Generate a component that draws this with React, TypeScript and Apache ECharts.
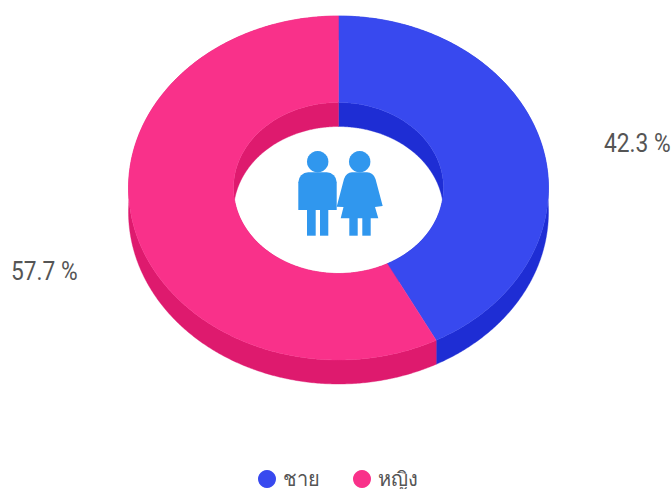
import React, { useEffect, useRef } from "react";
import * as echarts from "echarts";

const categories = ["ชาย", "หญิง"];
const values = [42.3, 57.7];
const topColors = ["#3849EF", "#F9318A"];
const sideColors = ["#1E2DD4", "#DE1A6E"];
const FONT = "Roboto, 'Noto Sans', sans-serif";

const CX = 338.5;
const CY = 188;
const OUTER_RX = 210;
const OUTER_RY = 172;
const INNER_RX = 105;
const INNER_RY = 85.5;
const DEPTH = 24;
const LABEL_POS = [
  { x: 604, y: 144 },
  { x: 11, y: 272 },
];

const total = values.reduce((a, b) => a + b, 0);
const startOf = (i: number) =>
  (values.slice(0, i).reduce((a, b) => a + b, 0) / total) * 360;

function arc(rx: number, ry: number, a0: number, a1: number, dy = 0) {
  const n = Math.max(2, Math.ceil((a1 - a0) * 2));
  const pts: number[][] = [];
  for (let k = 0; k <= n; k++) {
    const t = ((a0 + ((a1 - a0) * k) / n) * Math.PI) / 180;
    pts.push([CX + rx * Math.sin(t), CY - ry * Math.cos(t) + dy]);
  }
  return pts;
}

const band = (rx: number, ry: number, a0: number, a1: number) =>
  arc(rx, ry, a0, a1).concat(arc(rx, ry, a0, a1, DEPTH).reverse());

registerIcon();
function registerIcon() {
  echarts.graphic.registerShape(
    "womanBody",
    echarts.graphic.extendPath(
      "M352 172.3 L367 172.3 Q373 172.3 375.5 179 L382.7 206 L375 207 L378.3 218.3 L340.7 218.3 L343.5 207 L336.7 206.7 L344 179 Q346.5 172.3 352 172.3 Z",
      {}
    )
  );
}

function sliceSeries(i: number) {
  const a0 = startOf(i);
  const a1 = a0 + (values[i] / total) * 360;
  return {
    type: "custom",
    name: categories[i],
    coordinateSystem: "none",
    itemStyle: { color: topColors[i] },
    data: [{ name: categories[i], value: values[i] }],
    silent: true,
    renderItem: () => {
      const side = { fill: sideColors[i], stroke: sideColors[i], lineWidth: 0.4 };
      return {
        type: "group",
        children: [
          { type: "polygon", z2: 1, shape: { points: band(OUTER_RX, OUTER_RY, a0, a1) }, style: side },
          { type: "polygon", z2: 1, shape: { points: band(INNER_RX, INNER_RY, a0, a1) }, style: side },
          {
            type: "polygon",
            z2: 2,
            shape: {
              points: arc(OUTER_RX, OUTER_RY, a0, a1).concat(arc(INNER_RX, INNER_RY, a0, a1).reverse()),
            },
            style: { fill: topColors[i], stroke: topColors[i], lineWidth: 0.4 },
          },
          {
            type: "text",
            z2: 3,
            x: LABEL_POS[i].x,
            y: LABEL_POS[i].y,
            scaleX: 0.91,
            style: {
              text: `${values[i]} %`,
              fontSize: 25,
              fontFamily: FONT,
              fill: "#555555",
              textAlign: "left",
              textVerticalAlign: "middle",
            },
          },
        ],
      };
    },
  };
}

const ICON_COLOR = "#3097EE";

export default function App() {
  const ref = useRef<HTMLDivElement>(null);
  useEffect(() => {
    const chart = echarts.init(ref.current!, null, { renderer: "svg" });
    chart.setOption({
      animation: false,
      backgroundColor: "#ffffff",
      legend: {
        data: categories,
        icon: "circle",
        left: 253,
        top: 464,
        itemWidth: 18,
        itemHeight: 18,
        itemGap: 33,
        selectedMode: false,
        textStyle: { fontFamily: FONT, fontSize: 20, fontWeight: 500, color: "#555555", padding: [0, 0, 0, 2] },
      },
      series: categories.map((_, i) => sliceSeries(i)),
      graphic: [
        { type: "circle", z: 20, shape: { cx: 317.7, cy: 161.7, r: 10.7 }, style: { fill: ICON_COLOR } },
        { type: "circle", z: 20, shape: { cx: 359.7, cy: 161.7, r: 10.7 }, style: { fill: ICON_COLOR } },
        { type: "rect", z: 20, shape: { x: 298.3, y: 172.3, width: 38.4, height: 37.7, r: [10, 10, 0, 0] }, style: { fill: ICON_COLOR } },
        { type: "rect", z: 20, shape: { x: 307, y: 209, width: 8.7, height: 26.7 }, style: { fill: ICON_COLOR } },
        { type: "rect", z: 20, shape: { x: 320, y: 209, width: 8.3, height: 26.7 }, style: { fill: ICON_COLOR } },
        { type: "womanBody", z: 20, x: 0, y: 0, style: { fill: ICON_COLOR } },
        { type: "rect", z: 20, shape: { x: 349.3, y: 217, width: 8.4, height: 18.7 }, style: { fill: ICON_COLOR } },
        { type: "rect", z: 20, shape: { x: 362.3, y: 217, width: 8.4, height: 18.7 }, style: { fill: ICON_COLOR } },
      ],
    });
    return () => chart.dispose();
  }, []);
  return <div ref={ref} style={{ position: "fixed", left: 0, top: 0, width: 672, height: 489 }} />;
}
